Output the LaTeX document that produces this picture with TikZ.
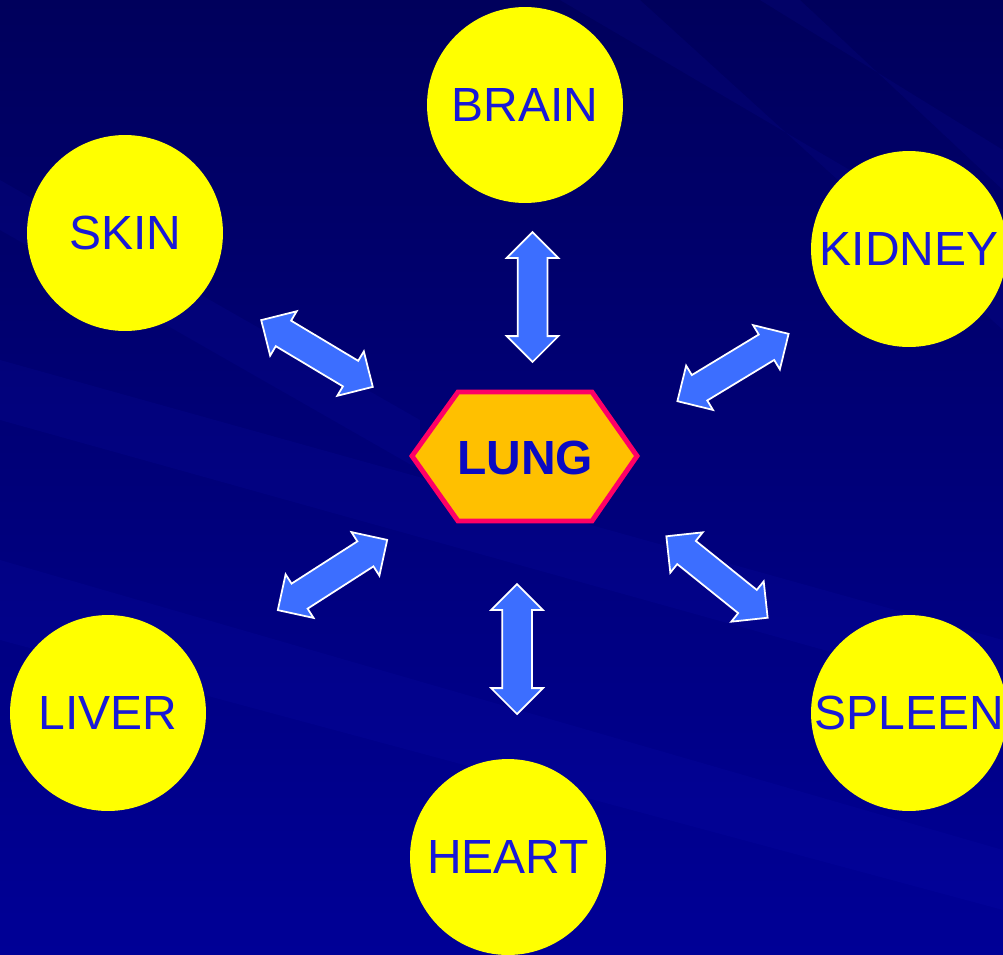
\documentclass[tikz,border=0pt]{standalone}
\usepackage{fontspec}
\setmainfont{Liberation Sans}
\usetikzlibrary{shapes.arrows}
\definecolor{navytop}{RGB}{0,0,92}
\definecolor{navybot}{RGB}{0,0,150}
\definecolor{streak}{RGB}{20,20,200}
\definecolor{organfill}{RGB}{255,255,0}
\definecolor{organtext}{RGB}{25,25,215}
\definecolor{lungfill}{RGB}{255,192,0}
\definecolor{lungline}{RGB}{255,0,102}
\definecolor{lungtext}{RGB}{10,10,195}
\definecolor{flowfill}{RGB}{60,110,255}
\tikzset{
  organ/.style={circle,fill=organfill,minimum size=3.92cm,inner sep=0pt,
    text=organtext,font=\fontsize{27.3}{30}\selectfont},
  flow/.style={double arrow,fill=flowfill,draw=white,line width=1pt,
    minimum width=1cm,double arrow head extend=0.22cm,
    minimum height=2.6cm,inner xsep=0pt,inner ysep=0.28cm},
  streakband/.style={fill=streak,opacity=0.1},
}
\begin{document}
\begin{tikzpicture}[x=0.02cm,y=-0.02cm]
    \useasboundingbox (0,0) rectangle (1003,954);
    \clip (0,0) rectangle (1003,954);
    % background
    \shade [top color=navytop,bottom color=navybot] (0,0) rectangle (1003,954);
    \fill [streakband] (560,0) -- (640,0) -- (1003,330) -- (1003,260) -- cycle;
    \fill [streakband] (760,0) -- (800,0) -- (1003,190) -- (1003,150) -- cycle;
    \fill [streakband] (0,180) -- (0,230) -- (420,470) -- (420,420) -- cycle;
    \fill [streakband] (0,360) -- (0,420) -- (1003,700) -- (1003,640) -- cycle;
    \fill [streakband] (0,560) -- (0,640) -- (1003,910) -- (1003,850) -- cycle;
    % organs
    \node [organ] (brain)  at (525,105) {BRAIN};
    \node [organ] (skin)   at (125,233) {SKIN};
    \node [organ] (kidney) at (909,249) {KIDNEY};
    \node [organ] (liver)  at (108,713) {LIVER};
    \node [organ] (heart)  at (508,857) {HEART};
    \node [organ] (spleen) at (909,713) {SPLEEN};
    % lung
    \draw [fill=lungfill,draw=lungline,line width=2.8pt]
        (412,456) -- (458,392) -- (592,392) -- (637,456) -- (592,521) -- (458,521) -- cycle;
    \node [text=lungtext,font=\fontsize{27.3}{30}\selectfont\bfseries] (lung) at (525,458) {LUNG};
    % exchange arrows
    \node [flow,rotate=90]    (tobrain)  at (532.5,297) {};
    \node [flow,rotate=-30.9] (toskin)   at (317,353.5) {};
    \node [flow,rotate=31.2]  (tokidney) at (733,367.5) {};
    \node [flow,rotate=32.7]  (toliver)  at (332.5,575) {};
    \node [flow,rotate=90]    (toheart)  at (517,649) {};
    \node [flow,rotate=-38.8] (tospleen) at (717,577) {};
\end{tikzpicture}
\end{document}
